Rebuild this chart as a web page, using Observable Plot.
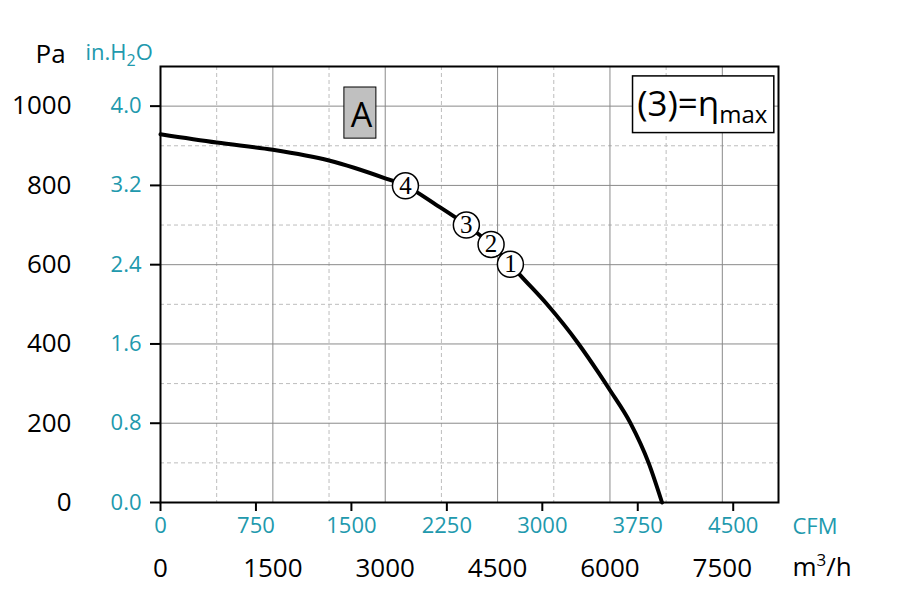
<!DOCTYPE html>
<html><head><meta charset="utf-8">
<script src="https://cdn.jsdelivr.net/npm/d3@7"></script>
<script src="https://cdn.jsdelivr.net/npm/@observablehq/plot@0.6"></script>
<style>body{margin:0;background:#fff} svg{display:block}</style>
</head><body><div id="chart"></div>
<script>
// Fan curve (m³/h, Pa)
const flow =     [0,   750, 1500, 2250, 3000, 3270, 3680, 4083, 4413, 4671, 4804, 5160, 5582, 5849, 6005, 6272, 6516, 6695];
const pressure = [929, 908, 890,  863,  818,  799,  751,  700,  651,  601,  573,  500,  400,  327,  282,  201,  100,  0];
// Operating points
const pointFlow = [4671, 4413, 4083, 3270];
const pointPressure = [601, 651, 700, 799];
const pointLabels = ["1", "2", "3", "4"];
// Ticks
const paTicks = [0, 200, 400, 600, 800, 1000];
const cfmTicks = [0, 750, 1500, 2250, 3000, 3750, 4500];
const m3hTicks = [0, 1500, 3000, 4500, 6000, 7500];
const gridSolidX = [1500, 3000, 4500, 6000, 7500];
const gridDashX = [750, 2250, 3750, 5250, 6750];
const gridSolidY = [200, 400, 600, 800, 1000];
const gridDashY = [100, 300, 500, 700, 900];
const CFM_TO_M3H = 1.699;
const PA_PER_INH2O = 250;
const teal = "#2199ad";

const curve = flow.map((f, i) => ({flow: f, pa: pressure[i]}));
const points = pointFlow.map((f, i) => ({flow: f, pa: pointPressure[i], label: pointLabels[i]}));

const chart = Plot.plot({
  width: 902,
  height: 598,
  marginLeft: 160,
  marginRight: 124,
  marginTop: 66,
  marginBottom: 96,
  style: {fontFamily: "'Open Sans', 'Noto Sans', sans-serif", background: "white", overflow: "visible"},
  x: {domain: [0, 8250]},
  y: {domain: [0, 1100]},
  marks: [
    Plot.gridX(gridDashX, {stroke: "#bdbdbd", strokeOpacity: 1, strokeDasharray: "4,3"}),
    Plot.gridY(gridDashY, {stroke: "#bdbdbd", strokeOpacity: 1, strokeDasharray: "4,3"}),
    Plot.gridX(gridSolidX, {stroke: "#8a8a8a", strokeOpacity: 1}),
    Plot.gridY(gridSolidY, {stroke: "#8a8a8a", strokeOpacity: 1}),
    Plot.line(curve, {x: "flow", y: "pa", curve: "monotone-x", stroke: "black", strokeWidth: 4}),
    Plot.dot(points, {x: "flow", y: "pa", r: 13, fill: "white", stroke: "black", strokeWidth: 1.5}),
    Plot.text(points, {x: "flow", y: "pa", text: "label", fontFamily: "'Liberation Serif', 'DejaVu Serif', serif", fontSize: 25, fill: "black"}),
    // "A" annotation box
    Plot.rect([0], {x1: 2455, x2: 2882, y1: 918, y2: 1047, fill: "#c0c0c0", stroke: "black", strokeWidth: 1}),
    Plot.text(["A"], {x: 2682, y: 976, text: d => d, fontSize: 34, fill: "black"}),
    // η max box
    Plot.rect([0], {x1: 6308, x2: 8194, y1: 932, y2: 1075, fill: "white", stroke: "black", strokeWidth: 1.5}),
    Plot.text(["(3)=ηmax"], {x: 7233, y: 976, text: d => d, fontSize: 35, fill: "black", lineAnchor: "bottom", textAnchor: "middle"}),
    Plot.frame({stroke: "black", strokeWidth: 2}),
    // Y axes
    Plot.axisY(paTicks, {anchor: "left", tickSize: 10, tickPadding: 9, tickFormat: d => (d / PA_PER_INH2O).toFixed(1), fill: teal, stroke: "black", strokeWidth: 2, fontSize: 22, label: null}),
    Plot.axisY(paTicks, {anchor: "left", tickSize: 0, tickPadding: 89, tickFormat: d => String(d), fill: "black", fontSize: 26, label: null}),
    // X axes
    Plot.axisX(cfmTicks.map(c => c * CFM_TO_M3H), {anchor: "bottom", tickSize: 9, tickPadding: 6, tickFormat: d => String(Math.round(d / CFM_TO_M3H)), fill: teal, stroke: "black", strokeWidth: 2, fontSize: 22, label: null}),
    Plot.axisX(m3hTicks, {anchor: "bottom", tickSize: 0, tickPadding: 56, tickFormat: d => String(d), fill: "black", fontSize: 26, label: null}),
    // Axis titles
    Plot.text(["Pa"], {frameAnchor: "top-left", text: d => d, dx: -125, dy: -4, textAnchor: "start", lineAnchor: "bottom", fontSize: 26, fill: "black"}),
    Plot.text(["in.H2O"], {frameAnchor: "top-left", text: d => d, dx: -75, dy: -7, textAnchor: "start", lineAnchor: "bottom", fontSize: 22, fill: teal}),
    Plot.text(["CFM"], {frameAnchor: "bottom-right", text: d => d, dx: 14, dy: 31, textAnchor: "start", lineAnchor: "bottom", fontSize: 22, fill: teal}),
    Plot.text(["m3/h"], {frameAnchor: "bottom-right", text: d => d, dx: 14, dy: 73, textAnchor: "start", lineAnchor: "bottom", fontSize: 26, fill: "black"})
  ]
});
document.getElementById("chart").appendChild(chart);

// Sub/superscripts
const NS = "http://www.w3.org/2000/svg";
function rich(el, parts) {
  el.textContent = "";
  for (const [txt, dy, size] of parts) {
    const t = document.createElementNS(NS, "tspan");
    t.textContent = txt;
    if (dy) t.setAttribute("dy", dy);
    if (size) t.setAttribute("font-size", size);
    el.appendChild(t);
  }
}
d3.select(chart).selectAll("text").each(function() {
  const s = this.textContent;
  if (s === "in.H2O") rich(this, [["in.H"], ["2", 6, 16], ["O", -6]]);
  else if (s === "m3/h") rich(this, [["m"], ["3", -10, 17], ["/h", 10]]);
  else if (s === "(3)=ηmax") rich(this, [["(3)=η"], ["max", 7, 24]]);
});
</script>
</body></html>
